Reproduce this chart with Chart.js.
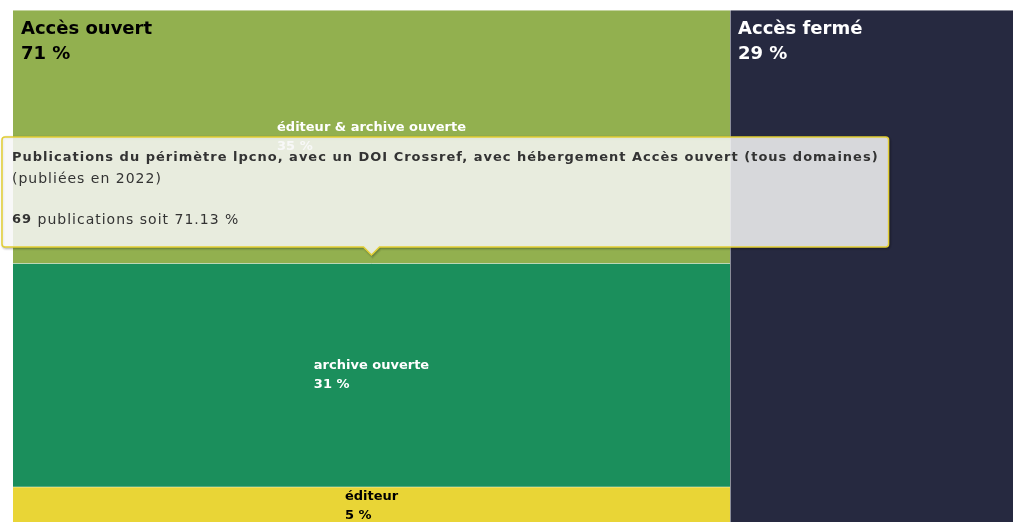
<!DOCTYPE html>
<html>
<head>
<meta charset="utf-8">
<script src="https://cdn.jsdelivr.net/npm/chart.js@4"></script>
<style>
  html, body { margin: 0; padding: 0; background: #fff; overflow: hidden; }
  #wrap { position: relative; width: 1021px; height: 524px; }
</style>
</head>
<body>
<div id="wrap"><canvas id="treemap"></canvas></div>
<script>
// treemap data: leaves and the group they belong to
var categories = ['éditeur & archive ouverte', 'archive ouverte', 'éditeur', 'Accès fermé'];
var parents = ['Accès ouvert', 'Accès ouvert', 'Accès ouvert', 'Accès fermé'];
var counts = [34, 30, 5, 28];
var colors = ['#92b04f', '#1b8f5c', '#e9d536', '#262940'];
var labelColors = ['#ffffff', '#ffffff', '#000000', '#ffffff'];
var groups = ['Accès ouvert', 'Accès fermé'];
var groupLabelColors = ['#000000', '#ffffff'];

var total = counts.reduce((a, b) => a + b, 0);
var groupTotals = groups.map(g => counts.reduce((s, c, i) => s + (parents[i] === g ? c : 0), 0));
var height = groupTotals[0]; // y range = size of first column

// simple slice layout: one column per group, leaves stacked from top
var rects = [];
var groupRects = [];
var x0 = 0;
groups.forEach((g, gi) => {
    var w = groupTotals[gi];
    groupRects.push({ x0: x0, x1: x0 + w, y0: 0, y1: height });
    var top = height;
    categories.forEach((c, i) => {
        if (parents[i] !== g) return;
        var h = counts[i] / groupTotals[gi] * height;
        rects[i] = { x0: x0, x1: x0 + w, y0: top - h, y1: top };
        top -= h;
    });
    x0 += w;
});

var datasets = categories.map((c, i) => {
    var r = rects[i];
    var pts = [];
    if (r.x0 > 0) pts.push({ x: r.x0, y: r.y0 }); // left edge as separator
    pts.push({ x: r.x0, y: r.y1 });
    pts.push({ x: r.x1, y: r.y1 });
    return {
        label: c,
        data: pts,
        showLine: true,
        pointRadius: 0,
        borderColor: 'rgba(255,255,255,0.9)',
        borderWidth: 1,
        backgroundColor: colors[i],
        fill: { value: r.y0 }
    };
});

var FONT = '"DejaVu Sans", Verdana, sans-serif';

var labelPlugin = {
    id: 'treeLabels',
    afterDatasetsDraw(chart) {
        var ctx = chart.ctx, xs = chart.scales.x, ys = chart.scales.y;
        ctx.save();
        ctx.textBaseline = 'middle';
        ctx.textAlign = 'left';
        // leaf labels, centered block, left aligned text
        categories.forEach((c, i) => {
            if (parents[i] !== groups[0]) return;
            var r = rects[i];
            var cx = (xs.getPixelForValue(r.x0) + xs.getPixelForValue(r.x1)) / 2;
            var cy = (ys.getPixelForValue(r.y0) + ys.getPixelForValue(r.y1)) / 2;
            ctx.font = 'bold 13px ' + FONT;
            var pct = Math.round(counts[i] / total * 100) + ' %';
            var w = Math.max(ctx.measureText(c).width, ctx.measureText(pct).width);
            ctx.fillStyle = labelColors[i];
            ctx.fillText(c, cx - w / 2, cy - 9);
            ctx.fillText(pct, cx - w / 2, cy + 10);
        });
        // group labels, top-left
        groups.forEach((g, gi) => {
            var r = groupRects[gi];
            var px = xs.getPixelForValue(r.x0) + 8;
            var py = ys.getPixelForValue(r.y1);
            ctx.font = 'bold 18px ' + FONT;
            ctx.fillStyle = groupLabelColors[gi];
            ctx.fillText(g, px, py + 19);
            ctx.fillText(Math.round(groupTotals[gi] / total * 100) + ' %', px, py + 44);
        });
        ctx.restore();
    }
};

function calloutPath(ctx, bx, by, bw, bh, ax, ay) {
    var rad = 3;
    ctx.beginPath();
    ctx.moveTo(bx + rad, by);
    ctx.lineTo(bx + bw - rad, by);
    ctx.arcTo(bx + bw, by, bx + bw, by + rad, rad);
    ctx.lineTo(bx + bw, by + bh - rad);
    ctx.arcTo(bx + bw, by + bh, bx + bw - rad, by + bh, rad);
    ctx.lineTo(ax + 8, by + bh);
    ctx.lineTo(ax, ay);
    ctx.lineTo(ax - 8, by + bh);
    ctx.lineTo(bx + rad, by + bh);
    ctx.arcTo(bx, by + bh, bx, by + bh - rad, rad);
    ctx.lineTo(bx, by + rad);
    ctx.arcTo(bx, by, bx + rad, by, rad);
    ctx.closePath();
}

var tooltipPlugin = {
    id: 'fixedTip',
    afterDraw(chart) {
        var ctx = chart.ctx, xs = chart.scales.x, ys = chart.scales.y;
        var r = groupRects[0];
        var ax = (xs.getPixelForValue(r.x0) + xs.getPixelForValue(r.x1)) / 2;
        var ay = (ys.getPixelForValue(r.y0) + ys.getPixelForValue(r.y1)) / 2 - 12;
        var title = 'Publications du périmètre lpcno, avec un DOI Crossref, avec hébergement ' + groups[0] + ' (tous domaines)';
        var sub = '(publiées en 2022)';
        var n = String(groupTotals[0]);
        var rest = ' publications soit ' + (groupTotals[0] / total * 100).toFixed(2) + ' %';
        var boldFont = function () { ctx.font = 'bold 13px ' + FONT; ctx.letterSpacing = '1px'; };
        var normFont = function () { ctx.font = '14px ' + FONT; ctx.letterSpacing = '1px'; };
        ctx.save();
        boldFont();
        var tw = ctx.measureText(title).width;
        var bw = tw + 20, bh = 110;
        var bx = Math.max(2, ax - bw / 2);
        var by = ay - 8 - bh;
        // shadow (offset strokes, like highcharts)
        ctx.save();
        ctx.translate(1, 1);
        calloutPath(ctx, bx, by, bw, bh, ax, ay);
        ctx.strokeStyle = 'rgba(0,0,0,0.05)';
        ctx.lineWidth = 5;
        ctx.stroke();
        ctx.strokeStyle = 'rgba(0,0,0,0.1)';
        ctx.lineWidth = 3;
        ctx.stroke();
        ctx.strokeStyle = 'rgba(0,0,0,0.15)';
        ctx.lineWidth = 1;
        ctx.stroke();
        ctx.restore();
        calloutPath(ctx, bx, by, bw, bh, ax, ay);
        ctx.fillStyle = 'rgba(247,247,247,0.85)';
        ctx.fill();
        ctx.strokeStyle = '#e3cf35';
        ctx.lineWidth = 1.5;
        ctx.stroke();
        // text
        ctx.fillStyle = '#333333';
        ctx.textBaseline = 'middle';
        ctx.textAlign = 'left';
        var tx = bx + 10;
        ctx.fillText(title, tx, by + 21);
        normFont();
        ctx.fillText(sub, tx, by + 42);
        boldFont();
        ctx.fillText(n, tx, by + 83);
        var nw = ctx.measureText(n).width;
        normFont();
        ctx.fillText(rest, tx + nw, by + 83);
        ctx.restore();
    }
};

new Chart(document.getElementById('treemap'), {
    type: 'scatter',
    data: { datasets: datasets },
    options: {
        responsive: true,
        maintainAspectRatio: false,
        animation: false,
        events: [],
        layout: { padding: { left: 13, top: 10, right: 0, bottom: 0 } },
        scales: {
            x: { type: 'linear', min: 0, max: total, display: false },
            y: { type: 'linear', min: 0, max: height, display: false }
        },
        plugins: {
            legend: { display: false },
            tooltip: { enabled: false }
        }
    },
    plugins: [labelPlugin, tooltipPlugin]
});
</script>
</body>
</html>
